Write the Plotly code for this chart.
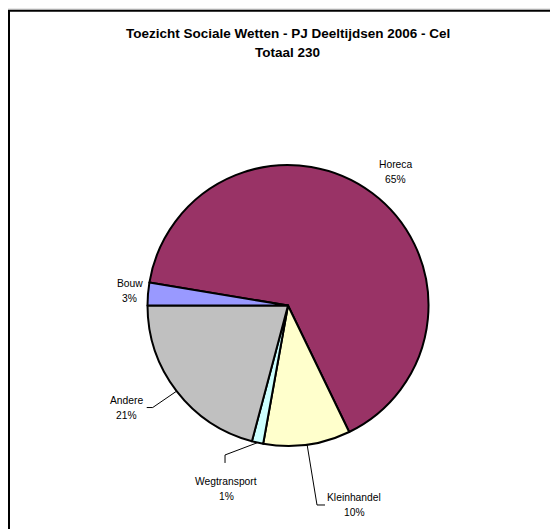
import math
import plotly.graph_objects as go

# ---- data ----
categories = ["Horeca", "Kleinhandel", "Wegtransport", "Andere", "Bouw"]
counts = [150, 23, 3, 48, 6]
pct_labels = ["65%", "10%", "1%", "21%", "3%"]
colors = ["#993366", "#FFFFCC", "#CCFFFF", "#C0C0C0", "#9999FF"]
title_lines = ["Toezicht Sociale Wetten - PJ Deeltijdsen 2006 - Cel", "Totaal 230"]

# the page body has an 8px default margin; the figure fills the rest of the window
OFF = 8
W, H = 558 - OFF, 529 - OFF
CX, CY, R = 288.0, 305.5, 140.5   # pie centre / radius in window pixels
ROTATION = 279.4  # degrees clockwise from 12 o'clock where first slice starts
FONT = "Liberation Sans, Arial, sans-serif"

def px(x):
    return (x - OFF) / W

def py(y):
    return 1 - (y - OFF) / H

fig = go.Figure(go.Pie(
    labels=categories,
    values=counts,
    sort=False,
    direction="clockwise",
    rotation=ROTATION,
    marker=dict(colors=colors, line=dict(color="black", width=2)),
    textinfo="none",
    hoverinfo="label+percent",
    domain=dict(x=[px(CX - R), px(CX + R)], y=[py(CY + R), py(CY - R)]),
    showlegend=False,
))

# label placement (offsets of the label block centre from the slice's outer edge midpoint, px)
label_offsets = {
    "Horeca": (23.4, -21),
    "Kleinhandel": (46.9, 60.3),
    "Wegtransport": (-31.5, 46.8),
    "Andere": (-50.6, 16.4),
    "Bouw": (-18, -2.5),
}
LINE_GAP = 7.5

total = sum(counts)
start = ROTATION
annotations = []
shapes = []
for cat, val, pl in zip(categories, counts, pct_labels):
    span = 360.0 * val / total
    mid = math.radians(start + span / 2)
    start += span
    ex = CX + R * math.sin(mid)
    ey = CY - R * math.cos(mid)
    dx, dy = label_offsets[cat]
    lx, ly = ex + dx, ey + dy
    for txt, yy in ((cat, ly - LINE_GAP), (pl, ly + LINE_GAP)):
        annotations.append(dict(
            x=px(lx), y=py(yy), xref="paper", yref="paper",
            text=txt, showarrow=False, align="center",
            font=dict(family=FONT, size=10.3, color="black"),
            xanchor="center", yanchor="middle",
        ))
    pts = None
    if cat == "Kleinhandel":
        pts = [(ex, ey), (lx - 37, ly), (lx - 29, ly)]
    elif cat == "Wegtransport":
        pts = [(ex, ey), (lx - 1, ly - 34.5), (lx - 1, ly - 26.5)]
    elif cat == "Andere":
        pts = [(ex, ey), (lx + 26.7, ly), (lx + 20.7, ly)]
    if pts:
        path = "M " + " L ".join(f"{px(a):.5f},{py(b):.5f}" for a, b in pts)
        shapes.append(dict(type="path", path=path, xref="paper", yref="paper",
                           line=dict(color="black", width=1)))

# title
for txt, yy in ((title_lines[0], 33.5), (title_lines[1], 52.5)):
    annotations.append(dict(
        x=px(288), y=py(yy), xref="paper", yref="paper",
        text="<b>" + txt + "</b>",
        showarrow=False, align="center", xanchor="center", yanchor="middle",
        font=dict(family=FONT, size=13.5, color="black"),
    ))

# faint shadow line above the frame
shapes.append(dict(type="line", xref="paper", yref="paper",
                   x0=px(8), y0=py(9), x1=1.05, y1=py(9),
                   line=dict(color="#d0d0d0", width=1)))
# chart frame (extends past the right/bottom edges as in the reference)
shapes.append(dict(type="rect", xref="paper", yref="paper",
                   x0=px(9), y0=py(10.8), x1=1.05, y1=-0.05,
                   line=dict(color="black", width=2), fillcolor="rgba(0,0,0,0)"))

fig.update_layout(
    width=W, height=H, autosize=False,
    margin=dict(l=0, r=0, t=0, b=0),
    paper_bgcolor="white",
    plot_bgcolor="white",
    annotations=annotations,
    shapes=shapes,
)

fig.write_html("out.html")
